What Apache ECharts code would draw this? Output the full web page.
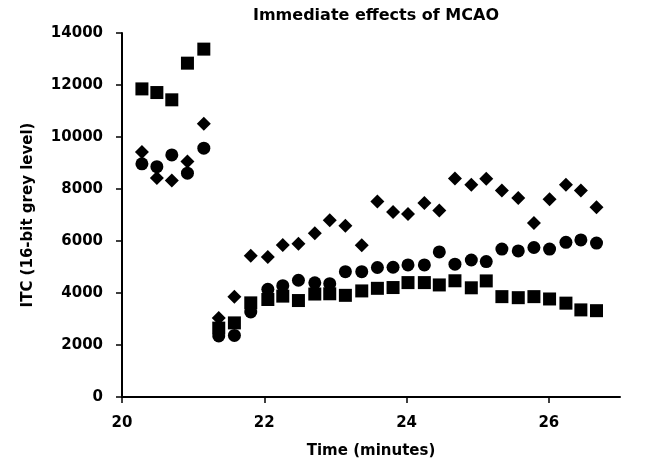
<!DOCTYPE html>
<html>
<head>
<meta charset="utf-8">
<script src="https://cdn.jsdelivr.net/npm/echarts@6/dist/echarts.min.js"></script>
<style>
  html, body { margin: 0; padding: 0; background: #fff; }
  #chart { width: 645px; height: 461px; }
</style>
</head>
<body>
<div id="chart"></div>
<script>
// 数据
var times = [20.28, 20.49, 20.70, 20.92, 21.15, 21.36, 21.58, 21.81, 22.05, 22.26,
             22.48, 22.71, 22.92, 23.14, 23.37, 23.59, 23.81, 24.02, 24.25, 24.46,
             24.68, 24.91, 25.12, 25.34, 25.57, 25.79, 26.01, 26.24, 26.45, 26.67];
var squareVals = [11850, 11710, 11430, 12840, 13380, 2650, 2850, 3620, 3750, 3880,
                  3710, 3960, 3970, 3910, 4080, 4180, 4210, 4400, 4400, 4310,
                  4470, 4200, 4465, 3860, 3820, 3860, 3770, 3610, 3350, 3320];
var diamondVals = [9420, 8420, 8330, 9060, 10510, 3040, 3860, 5430, 5380, 5850,
                   5890, 6300, 6800, 6590, 5840, 7520, 7120, 7040, 7460, 7170,
                   8400, 8160, 8390, 7940, 7650, 6690, 7610, 8160, 7940, 7300];
var circleVals = [8970, 8860, 9310, 8610, 9570, 2350, 2370, 3270, 4140, 4280,
                  4490, 4390, 4360, 4820, 4820, 4980, 4990, 5080, 5080, 5580,
                  5110, 5270, 5210, 5690, 5620, 5750, 5690, 5950, 6040, 5920];
var xTicks = [20, 22, 24, 26];

function pairs(vals) {
    return times.map(function (t, i) { return [t, vals[i]]; });
}

var myChart = echarts.init(document.getElementById('chart'));
var font = 'DejaVu Sans';
myChart.setOption({
    animation: false,
    title: {
        text: 'Immediate effects of MCAO',
        left: 371,
        top: 3,
        textAlign: 'center',
        textStyle: { fontFamily: font, fontWeight: 'bold', fontSize: 16, color: '#000' }
    },
    grid: { left: 122, right: 25, top: 33, bottom: 64, containLabel: false, outerBoundsMode: 'none' },
    xAxis: {
        type: 'value',
        min: 20,
        max: 27,
        name: 'Time (minutes)',
        nameLocation: 'middle',
        nameGap: 47,
        nameTextStyle: { fontFamily: font, fontWeight: 'bold', fontSize: 15, color: '#000' },
        splitLine: { show: false },
        axisLine: { lineStyle: { color: '#000', width: 2 } },
        axisTick: { customValues: xTicks, length: 6, lineStyle: { color: '#000', width: 1.5 } },
        axisLabel: {
            customValues: xTicks,
            margin: 19,
            fontFamily: font, fontWeight: 'bold', fontSize: 15, color: '#000'
        }
    },
    yAxis: {
        type: 'value',
        min: 0,
        max: 14000,
        interval: 2000,
        name: 'ITC (16-bit grey level)',
        nameLocation: 'middle',
        nameGap: 86,
        nameTextStyle: { fontFamily: font, fontWeight: 'bold', fontSize: 15, color: '#000' },
        splitLine: { show: false },
        axisLine: { show: true, lineStyle: { color: '#000', width: 2 } },
        axisTick: { show: true, length: 6, lineStyle: { color: '#000', width: 1.5 } },
        axisLabel: {
            margin: 19,
            formatter: function (v) { return String(v); },
            fontFamily: font, fontWeight: 'bold', fontSize: 15, color: '#000'
        }
    },
    series: [
        {
            name: 'square', type: 'scatter', symbol: 'rect', symbolSize: 13,
            itemStyle: { color: '#000', opacity: 1 }, data: pairs(squareVals)
        },
        {
            name: 'diamond', type: 'scatter', symbol: 'diamond', symbolSize: 14,
            itemStyle: { color: '#000', opacity: 1 }, data: pairs(diamondVals)
        },
        {
            name: 'circle', type: 'scatter', symbol: 'circle', symbolSize: 13,
            itemStyle: { color: '#000', opacity: 1 }, data: pairs(circleVals)
        }
    ]
});
</script>
</body>
</html>
